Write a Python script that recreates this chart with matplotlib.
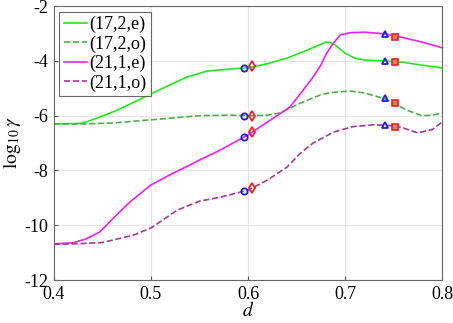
import numpy as np
import matplotlib
matplotlib.use("Agg")
import matplotlib.pyplot as plt

plt.rcParams['font.family'] = ['Liberation Serif', 'DejaVu Serif']
plt.rcParams['mathtext.fontset'] = 'stix'
plt.rcParams['axes.unicode_minus'] = False

# (17,2,e)
d_g1 = [0.40, 0.42, 0.43, 0.445, 0.465, 0.48, 0.50, 0.52, 0.537, 0.558, 0.58, 0.60,
        0.62, 0.64, 0.66, 0.67, 0.68, 0.685, 0.69, 0.70, 0.71, 0.72, 0.74, 0.76, 0.78, 0.80]
y_g1 = [-6.30, -6.29, -6.27, -6.08, -5.80, -5.55, -5.20, -4.87, -4.59, -4.37, -4.30, -4.25,
        -4.10, -3.90, -3.62, -3.47, -3.32, -3.33, -3.42, -3.72, -3.90, -3.97, -4.00, -4.05, -4.16, -4.25]
# (17,2,o)
d_g2 = [0.40, 0.43, 0.46, 0.50, 0.55, 0.58, 0.60, 0.62, 0.633, 0.654, 0.665, 0.677,
        0.69, 0.705, 0.72, 0.74, 0.764, 0.779, 0.79, 0.80]
y_g2 = [-6.30, -6.30, -6.27, -6.15, -6.00, -5.98, -6.00, -5.98, -5.90, -5.54, -5.38, -5.21,
        -5.14, -5.10, -5.17, -5.37, -5.80, -6.00, -5.98, -5.90]
# (21,1,e)
d_m1 = [0.40, 0.42, 0.433, 0.447, 0.468, 0.48, 0.50, 0.52, 0.54, 0.55, 0.57, 0.60,
        0.62, 0.643, 0.655, 0.667, 0.675, 0.681, 0.688, 0.695, 0.705, 0.72, 0.74, 0.76, 0.78, 0.80]
y_m1 = [-10.68, -10.64, -10.50, -10.25, -9.50, -9.10, -8.53, -8.15, -7.80, -7.62, -7.28, -6.70,
        -6.23, -5.69, -5.15, -4.59, -4.15, -3.72, -3.35, -3.05, -2.97, -2.95, -3.01, -3.15, -3.32, -3.52]
# (21,1,o)
d_m2 = [0.40, 0.427, 0.45, 0.482, 0.50, 0.527, 0.55, 0.571, 0.60, 0.62, 0.64, 0.654,
        0.667, 0.688, 0.708, 0.73, 0.75, 0.76, 0.775, 0.79, 0.80]
y_m2 = [-10.70, -10.67, -10.63, -10.36, -10.10, -9.45, -9.12, -8.98, -8.72, -8.35, -7.88, -7.37,
        -7.00, -6.60, -6.40, -6.33, -6.37, -6.45, -6.63, -6.50, -6.23]

labels = ['(17,2,e)', '(17,2,o)', '(21,1,e)', '(21,1,o)']

# marker points (order: 17e, 17o, 21e, 21o)
d_circ, y_circ = 0.596, [-4.26, -6.01, -6.78, -8.75]
d_diam, y_diam = 0.604, [-4.20, -6.00, -6.60, -8.65]
d_tri, y_tri = 0.741, [-4.00, -5.37, -3.03, -6.34]
d_sq, y_sq = 0.751, [-4.03, -5.55, -3.12, -6.40]

fig = plt.figure(figsize=(4.53, 3.23), dpi=100)
ax = fig.add_axes([0.119, 0.133, 0.857, 0.848])

cols = ['#22e822', '#4caf4c', '#ee22ee', '#a03ca0']
ax.plot(d_g1, y_g1, '-', color=cols[0], lw=1.2, label=labels[0])
ax.plot(d_g2, y_g2, '--', color=cols[1], lw=1.2, label=labels[1])
ax.plot(d_m1, y_m1, '-', color=cols[2], lw=1.2, label=labels[2])
ax.plot(d_m2, y_m2, '--', color=cols[3], lw=1.2, label=labels[3])

ms = 4.5
ax.plot([d_circ]*4, y_circ, 'o', ms=ms, mfc='none', mec='#1a1aff', mew=1.3, ls='none')
ax.plot([d_diam]*4, y_diam, 'd', ms=ms+1, mfc='none', mec='#ee2222', mew=1.3, ls='none')
ax.plot([d_tri]*4, y_tri, '^', ms=ms+0.5, mfc='none', mec='#1a1aff', mew=1.3, ls='none')
ax.plot([d_sq]*4, y_sq, 's', ms=ms, mfc='#f07a5a', mec='#e82222', mew=1.2, ls='none')

ax.set_xlim(0.4, 0.8)
ax.set_ylim(-12, -2)
ax.set_xticks([0.4, 0.5, 0.6, 0.7, 0.8])
ax.set_xticklabels(['0.4', '0.5', '0.6', '0.7', '0.8'])
ax.set_yticks([-12, -10, -8, -6, -4, -2])
ax.grid(True, color='#e6e6e6', lw=0.8)
ax.set_axisbelow(True)
ax.tick_params(direction='in', length=3, color='#555555', labelsize=13, pad=4)
for s in ax.spines.values():
    s.set_color('#666666')
    s.set_linewidth(0.8)

ax.set_xlabel(r'$d$', fontsize=14, labelpad=-1)
ax.set_ylabel(r'$\mathrm{log}_{10}\,\gamma$', fontsize=14, labelpad=1)

leg = ax.legend(loc='upper left', fontsize=13, frameon=True, fancybox=False,
                handlelength=1.3, handletextpad=0.1, borderpad=0.25, labelspacing=0.12,
                borderaxespad=0.3)
leg.get_frame().set_edgecolor('#444444')
leg.get_frame().set_linewidth(0.8)

fig.savefig('out.png', dpi=100)
